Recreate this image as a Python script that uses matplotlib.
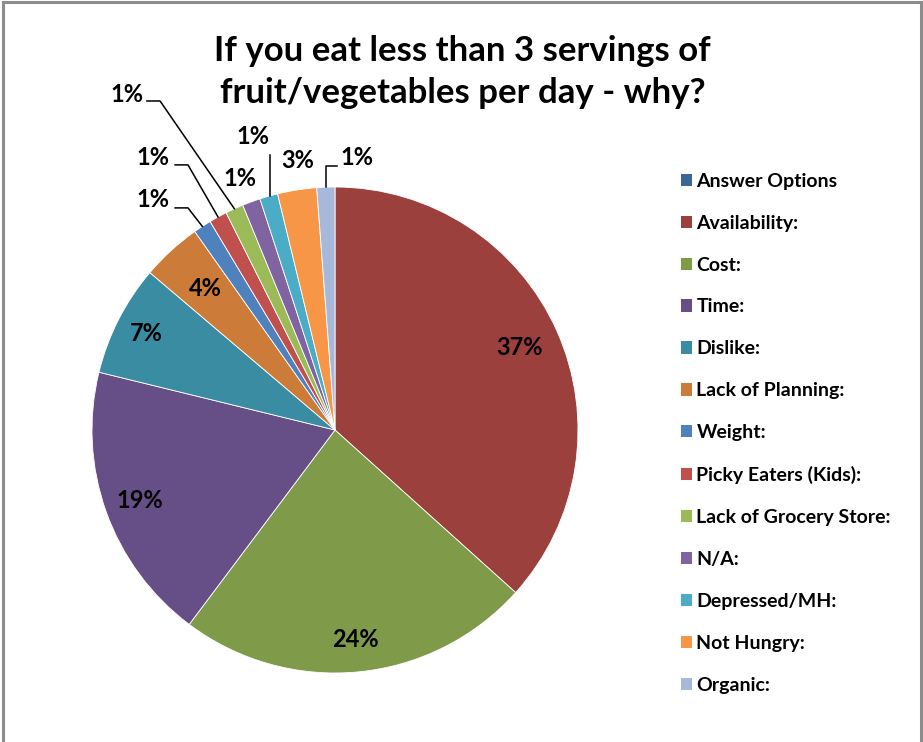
import numpy as np
import matplotlib
matplotlib.use("Agg")
import matplotlib.pyplot as plt
from matplotlib.patches import Patch
from matplotlib.lines import Line2D

categories = ["Answer Options", "Availability:", "Cost:", "Time:", "Dislike:",
              "Lack of Planning:", "Weight:", "Picky Eaters (Kids):",
              "Lack of Grocery Store:", "N/A:", "Depressed/MH:", "Not Hungry:", "Organic:"]
values = [0.0, 36.7, 23.6, 18.6, 7.4, 4.0, 1.2, 1.2, 1.2, 1.2, 1.2, 2.6, 1.2]
colors = ["#3E6597", "#9C403E", "#7F9A48", "#664F86", "#3A8CA2", "#CD7B38",
          "#4F81BD", "#C0504D", "#9BBB59", "#8064A2", "#4BACC6", "#F79646", "#A7B9DA"]
title = "If you eat less than 3 servings of\nfruit/vegetables per day - why?"

FONT = ["Lato", "DejaVu Sans"]
W, H = 923, 742
fig = plt.figure(figsize=(W / 100, H / 100), dpi=100)

# pie geometry (pixels)
cx, cy, R = 335, 430, 243
xl = (-1.3, 1.3)
yl = (-1.25, 1.35)
axw = (xl[1] - xl[0]) * R
axh = (yl[1] - yl[0]) * R
left = (cx + xl[0] * R) / W
bottom = (H - (cy - yl[0] * R)) / H
ax = fig.add_axes([left, bottom, axw / W, axh / H])

nz = [i for i, v in enumerate(values) if v > 0]
vals = [values[i] for i in nz]
cols = [colors[i] for i in nz]
wedges, _ = ax.pie(vals, colors=cols, startangle=90, counterclock=False,
                   radius=1.0, wedgeprops=dict(linewidth=0.6, edgecolor="white"))
ax.set_xlim(*xl)
ax.set_ylim(*yl)
ax.set_aspect("equal")
ax.axis("off")
total = sum(vals)
pcts = [v / total * 100 for v in vals]

LFS = 17
inside = {1: 0.83, 2: 0.865, 3: 0.855, 4: 0.87, 5: 0.79}
outside = {
    6: ((-0.749, 0.947), [(-0.658, 0.914), (-0.605, 0.914)]),
    7: ((-0.749, 1.123), [(-0.658, 1.091), (-0.605, 1.091)]),
    8: ((-0.856, 1.379), [(-0.774, 1.354), (-0.720, 1.354)]),
    9: ((-0.391, 1.037), None),
    10: ((-0.337, 1.206), [(-0.267, 1.132)]),
    11: ((-0.152, 1.111), None),
    12: ((0.091, 1.123), [(0.008, 1.086), (-0.036, 1.086)]),
}
for k, i in enumerate(nz):
    w = wedges[k]
    mid = np.deg2rad((w.theta1 + w.theta2) / 2)
    lab = "%d%%" % int(round(pcts[k]))
    if i in inside:
        r = inside[i]
        ax.text(r * np.cos(mid), r * np.sin(mid), lab, ha="center", va="center",
                fontsize=LFS, fontweight="bold", family=FONT, color="black")
    else:
        (tx, ty), path = outside[i]
        ax.text(tx, ty, lab, ha="center", va="center", fontsize=LFS,
                fontweight="bold", family=FONT, color="black")
        if path:
            if i in (10, 12):
                end = (path[-1][0], np.sqrt(max(0, 1 - path[-1][0] ** 2)))
            else:
                end = (np.cos(mid), np.sin(mid))
            pts = path + [end]
            ax.add_line(Line2D([p[0] for p in pts], [p[1] for p in pts],
                               color="black", lw=1.1, clip_on=False))

fig.text(0.501, 1 - 72 / H, title, ha="center", va="center", fontsize=25,
         fontweight="bold", family=FONT, linespacing=1.35)

handles = [Patch(facecolor=c, edgecolor="none") for c in colors]
leg = fig.legend(handles, categories, loc="upper left",
                 bbox_to_anchor=(673 / W, 1 - 165 / H), frameon=False,
                 prop=dict(family=FONT, weight="bold", size=14),
                 handlelength=0.6, handleheight=0.6, handletextpad=0.2,
                 labelspacing=1.28, borderaxespad=0)

# outer frame (left, top, right)
fc = "#8C8C8C"
fig.add_artist(Line2D([2.5 / W, 2.5 / W], [0, 1 - 2 / H], color=fc, lw=2.2, transform=fig.transFigure))
fig.add_artist(Line2D([2.5 / W, 920.5 / W], [1 - 2 / H, 1 - 2 / H], color=fc, lw=2.2, transform=fig.transFigure))
fig.add_artist(Line2D([920.5 / W, 920.5 / W], [0, 1 - 2 / H], color=fc, lw=2.2, transform=fig.transFigure))

fig.savefig("out.png", dpi=100, facecolor="white")
